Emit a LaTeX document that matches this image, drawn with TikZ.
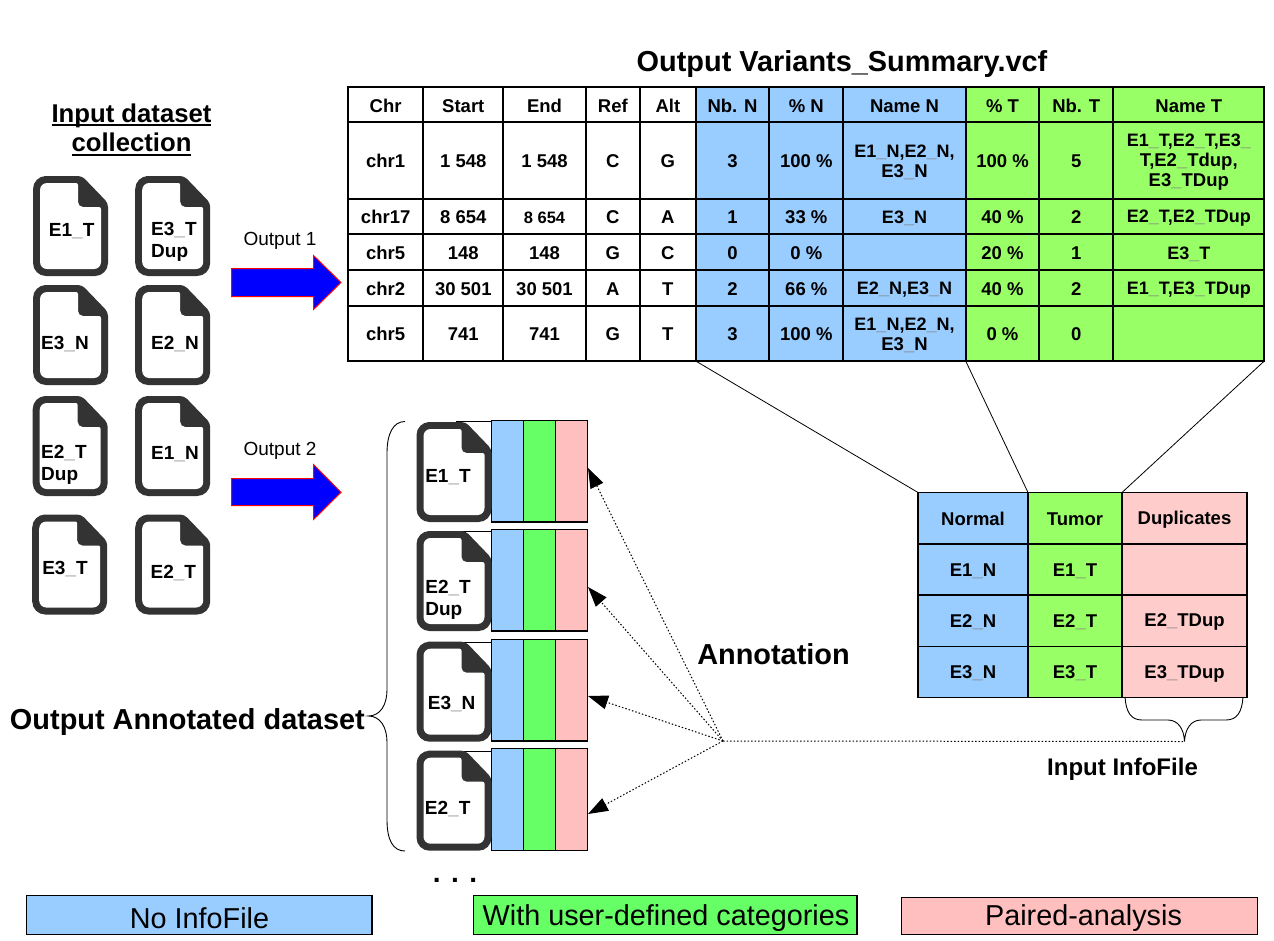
\documentclass[tikz,border=0pt]{standalone}
\usepackage{fontspec}
\setmainfont{Liberation Sans}
\usetikzlibrary{arrows.meta}
\definecolor{tblue}{HTML}{99CCFF}
\definecolor{tgreen}{HTML}{99FF66}
\definecolor{sgreen}{HTML}{66FF66}
\definecolor{spink}{HTML}{FFBFBF}
\definecolor{ipink}{HTML}{FFCCCC}
\definecolor{idark}{HTML}{333333}
\colorlet{cellfill}{white}
\newcommand\us{{\color{gray}\_}}
\newcommand\nm{\fontsize{18}{20}\selectfont}
\newcommand\ulx[1]{\setbox0\hbox{#1}\rlap{\smash{\rule[-4pt]{\wd0}{2pt}}}#1}
\def\cellw{2pt}
\tikzset{
  x=1pt,y=-1pt,
  tabcell/.style={draw=black,line width=\cellw,inner sep=0pt,outer sep=0pt},
  tabtext/.style={inner sep=0pt,outer sep=0pt,align=center,
     font=\bfseries\fontsize{18.5}{20}\selectfont,text=black},
  striprect/.style={draw=black,line width=1.5pt,inner sep=0pt,outer sep=0pt},
  legendbox/.style={draw=black,line width=1.2pt,inner sep=0pt,outer sep=0pt},
  legendtext/.style={anchor=base,inner sep=0pt,font=\fontsize{28.8}{30}\selectfont},
  iconlabel/.style={font=\bfseries\fontsize{19}{22}\selectfont,align=left,inner sep=0pt,yshift=-1.3pt},
  bigtitle/.style={font=\bfseries\fontsize{28.9}{30}\selectfont,inner sep=0pt},
  outlabel/.style={font=\fontsize{19}{22}\selectfont,inner sep=0pt},
  thinline/.style={draw=black,line width=0.8pt},
  dotline/.style={draw=black,line width=1pt,dash pattern=on 1.5pt off 2pt},
  annarrow/.style={dotline,-{Triangle[length=20pt,width=14pt]}},
  bluearrow/.style={draw=red,fill=blue,line width=1pt,line join=miter},
  fileicon/.pic={
    \fill[idark] (0,50) [rounded corners=13pt] -- (0,0) -- (24,0) [rounded corners=4pt] -- (49,0) -- (75,27) -- (75,60) [rounded corners=13pt] -- (75,100) -- (0,100) -- cycle;
    \fill[white] (7,50) [rounded corners=7pt] -- (7,7) -- (25,7) [rounded corners=2pt] -- (45,7) -- (45,20) [rounded corners=5pt] -- (45,31) -- (55,31) [rounded corners=2pt] -- (68,31) -- (68,60) [rounded corners=7pt] -- (68,93) -- (7,93) -- cycle;
  }
}
\newcommand\cellat[6]{%
  \pgfmathsetmacro\cw{#3-#2}\pgfmathsetmacro\ch{#5-#4}%
  \node[tabcell,fill=cellfill,minimum width=\cw pt,minimum height=\ch pt] (#1) at ({(#2+#3)/2},{(#4+#5)/2}) {};
  \node[tabtext] (#1t) at ({(#2+#3)/2},{(#4+#5)/2}) {\rule{0pt}{16pt}#6\rule[-1.4pt]{0pt}{1.4pt}};}
\newcommand\tabcol[9]{%
  \cellat{#1-r0}{#2}{#3}{87.3}{122.3}{#4}%
  \cellat{#1-r1}{#2}{#3}{122.3}{198.7}{#5}%
  \cellat{#1-r2}{#2}{#3}{198.7}{234.3}{#6}%
  \cellat{#1-r3}{#2}{#3}{234.3}{270.3}{#7}%
  \cellat{#1-r4}{#2}{#3}{270.3}{305.7}{#8}%
  \cellat{#1-r5}{#2}{#3}{305.7}{361}{#9}}
\newcommand\stripset[3]{%
  \pgfmathsetmacro\ch{#3-#2}%
  \node[striprect,fill=tblue,minimum width=32pt,minimum height=\ch pt] (s#1b) at (507.5,{(#2+#3)/2}) {};
  \node[striprect,fill=sgreen,minimum width=32pt,minimum height=\ch pt] (s#1g) at (539.5,{(#2+#3)/2}) {};
  \node[striprect,fill=spink,minimum width=32pt,minimum height=\ch pt] (s#1p) at (571.5,{(#2+#3)/2}) {};}
\begin{document}
\begin{tikzpicture}
\useasboundingbox (0,0) rectangle (1274,940);
% titles
\node[bigtitle] (title) at (842,64) {Output Variants\_Summary.vcf};
\node[font=\bfseries\fontsize{25.7}{29.5}\selectfont,align=center,inner sep=0pt] (inputtitle) at (131.5,128) {\ulx{Input dataset}\\\ulx{collection}};
% table
\colorlet{cellfill}{white}
\tabcol{chr}{348}{423.3}{Chr}{chr1}{chr17}{chr5}{chr2}{chr5}
\tabcol{start}{423.3}{503.3}{Start}{1 548}{8 654}{148}{30 501}{741}
\tabcol{end}{503.3}{585.7}{End}{1 548}{{\fontsize{16.5}{20}\selectfont 8 654}}{148}{30 501}{741}
\tabcol{ref}{585.7}{640}{Ref}{C}{C}{G}{A}{G}
\tabcol{alt}{640}{695.7}{Alt}{G}{A}{C}{T}{T}
\colorlet{cellfill}{tblue}
\tabcol{nbn}{695.7}{769.3}{Nb. N}{3}{1}{0}{2}{3}
\tabcol{pn}{769.3}{843.3}{\% N}{100 \%}{33 \%}{0 \%}{66 \%}{100 \%}
\tabcol{namen}{843.3}{965.7}{Name N}{\nm E1\us N,E2\us N,\\E3\us N}{\nm E3\us N}{}{\nm E2\us N,E3\us N}{\nm E1\us N,E2\us N,\\E3\us N}
\colorlet{cellfill}{tgreen}
\tabcol{pt}{965.7}{1039.3}{\% T}{100 \%}{40 \%}{20 \%}{40 \%}{0 \%}
\tabcol{nbt}{1039.3}{1113.3}{Nb. T}{5}{2}{1}{2}{0}
\tabcol{namet}{1113.3}{1264.3}{Name T}{\nm E1\us T,E2\us T,E3\us\\T,E2\us Tdup,\\E3\us TDup}{\nm E2\us T,E2\us TDup}{\nm E3\us T}{\nm E1\us T,E3\us TDup}{}
% info table
\def\cellw{1.6pt}
\colorlet{cellfill}{tblue}
\cellat{in0}{918}{1028}{492.5}{544}{Normal}
\cellat{in1}{918}{1028}{544}{595}{E1\us N}
\cellat{in2}{918}{1028}{595}{646.5}{E2\us N}
\cellat{in3}{918}{1028}{646.5}{697.5}{E3\us N}
\colorlet{cellfill}{tgreen}
\cellat{it0}{1028}{1122}{492.5}{544}{Tumor}
\cellat{it1}{1028}{1122}{544}{595}{E1\us T}
\cellat{it2}{1028}{1122}{595}{646.5}{E2\us T}
\cellat{it3}{1028}{1122}{646.5}{697.5}{E3\us T}
\colorlet{cellfill}{ipink}
\cellat{id0}{1122}{1247}{492.5}{544}{Duplicates}
\cellat{id1}{1122}{1247}{544}{595}{}
\cellat{id2}{1122}{1247}{595}{646.5}{E2\us TDup}
\cellat{id3}{1122}{1247}{646.5}{697.5}{E3\us TDup}
% links table to info
\draw[thinline] (nbn-r5.south west) -- (in0.north west);
\draw[thinline] (pt-r5.south west) -- (it0.north west);
\draw[thinline] (namet-r5.south east) -- (id0.north west);
% input icons
\pic at (33,176) {fileicon};
\pic at (135.2,176) {fileicon};
\pic at (33,285) {fileicon};
\pic at (135.2,285) {fileicon};
\pic at (32.7,396) {fileicon};
\pic at (135.2,396) {fileicon};
\pic at (32.2,514.5) {fileicon};
\pic at (135.2,514.5) {fileicon};
\node[iconlabel] (a1) at (71.7,230) {E1\us T};
\node[iconlabel,anchor=west] (a2) at (151,241) {E3\us T\\Dup};
\node[iconlabel] (a3) at (65,342.7) {E3\us N};
\node[iconlabel] (a4) at (175,342.7) {E2\us N};
\node[iconlabel,anchor=west] (a5) at (41,463.5) {E2\us T\\Dup};
\node[iconlabel] (a6) at (175,452.7) {E1\us N};
\node[iconlabel] (a7) at (65,567.7) {E3\us T};
\node[iconlabel] (a8) at (173.3,571.7) {E2\us T};
% big arrows
\draw[bluearrow] (231.5,268.5) -- (313.5,268.5) -- (313.5,255.5) -- (341,282.5) -- (313.5,309.5) -- (313.5,296.5) -- (231.5,296.5) -- cycle;
\draw[bluearrow] (231.5,478.5) -- (313.5,478.5) -- (313.5,464.5) -- (341,492.3) -- (313.5,519.5) -- (313.5,505.5) -- (231.5,505.5) -- cycle;
\node[outlabel] (o1) at (280,241) {Output 1};
\node[outlabel] (o2) at (280,451) {Output 2};
% annotated dataset
\stripset{1}{420.5}{522}
\stripset{2}{529.5}{631}
\stripset{3}{639.3}{741}
\stripset{4}{748.3}{850.3}
\draw[thinline] (456,421.7) -- (s1b.west |- 0,421.7);
\draw[thinline] (456,531) -- (s2b.west |- 0,531);
\draw[thinline] (456,642.3) -- (s3b.west |- 0,642.3);
\draw[thinline] (456,751) -- (s4b.west |- 0,751);
\pic at (416.5,422) {fileicon};
\pic at (416.5,531) {fileicon};
\pic at (416.5,641.7) {fileicon};
\pic at (416.5,750.7) {fileicon};
\node[iconlabel] (b1) at (448,475.7) {E1\us T};
\node[iconlabel,anchor=west] (b2) at (425.2,599) {E2\us T\\Dup};
\node[iconlabel] (b3) at (451.7,703) {E3\us N};
\node[iconlabel] (b4) at (447.7,807.3) {E2\us T};
% big brace
\draw[line width=0.9pt] (405,421.5) .. controls (393,421.5) and (387,434) .. (387,453) -- (387,690) .. controls (387,705) and (380,716) .. (368.5,716) .. controls (380,716) and (387,727) .. (387,742) -- (387,820) .. controls (387,840) and (393,851) .. (405,851);
\node[bigtitle,anchor=east] (outann) at (365,722) {Output Annotated dataset};
% dots
\node[inner sep=0pt,font=\bfseries\fontsize{28}{30}\selectfont] (dots) at (455,880) {. . .};
% annotation arrows
\coordinate (hub) at (723,741);
\coordinate (tip1) at (588,468);
\coordinate (tip2) at (588,587);
\coordinate (tip3) at (588,696);
\coordinate (tip4) at (588,814);
\draw[annarrow] (hub) -- (tip1);
\draw[annarrow] (hub) -- (tip2);
\draw[annarrow] (hub) -- (tip3);
\draw[annarrow] (hub) -- (tip4);
\node[bigtitle] (annot) at (773.5,654) {Annotation};
% small brace
\coordinate (bracetip) at (1184.5,741.5);
\draw[dotline] (hub) -- (bracetip);
\draw[line width=0.9pt] (1125,697) .. controls (1126,712) and (1131,720) .. (1142,720) -- (1168,720) .. controls (1178,720) and (1184,729) .. (bracetip) .. controls (1185,729) and (1191,720) .. (1201,720) -- (1226,720) .. controls (1237,720) and (1242,712) .. (1243,697);
\node[font=\bfseries\fontsize{24}{26}\selectfont,inner sep=0pt] (infofile) at (1122.5,769) {Input InfoFile};
% legend
\node[legendbox,fill=tblue,minimum width=345.5pt,minimum height=39pt] (l1) at (199.25,914.8) {};
\node[legendbox,fill=sgreen,minimum width=383.5pt,minimum height=39pt] (l2) at (665.25,914.8) {};
\node[legendbox,fill=spink,minimum width=356pt,minimum height=37pt] (l3) at (1079.5,915.7) {};
\node[legendtext] (l1t) at (199.5,928.3) {No InfoFile};
\node[legendtext] (l2t) at (666,925.2) {With user-defined categories};
\node[legendtext] (l3t) at (1083.5,925.2) {Paired-analysis};
\end{tikzpicture}
\end{document}
